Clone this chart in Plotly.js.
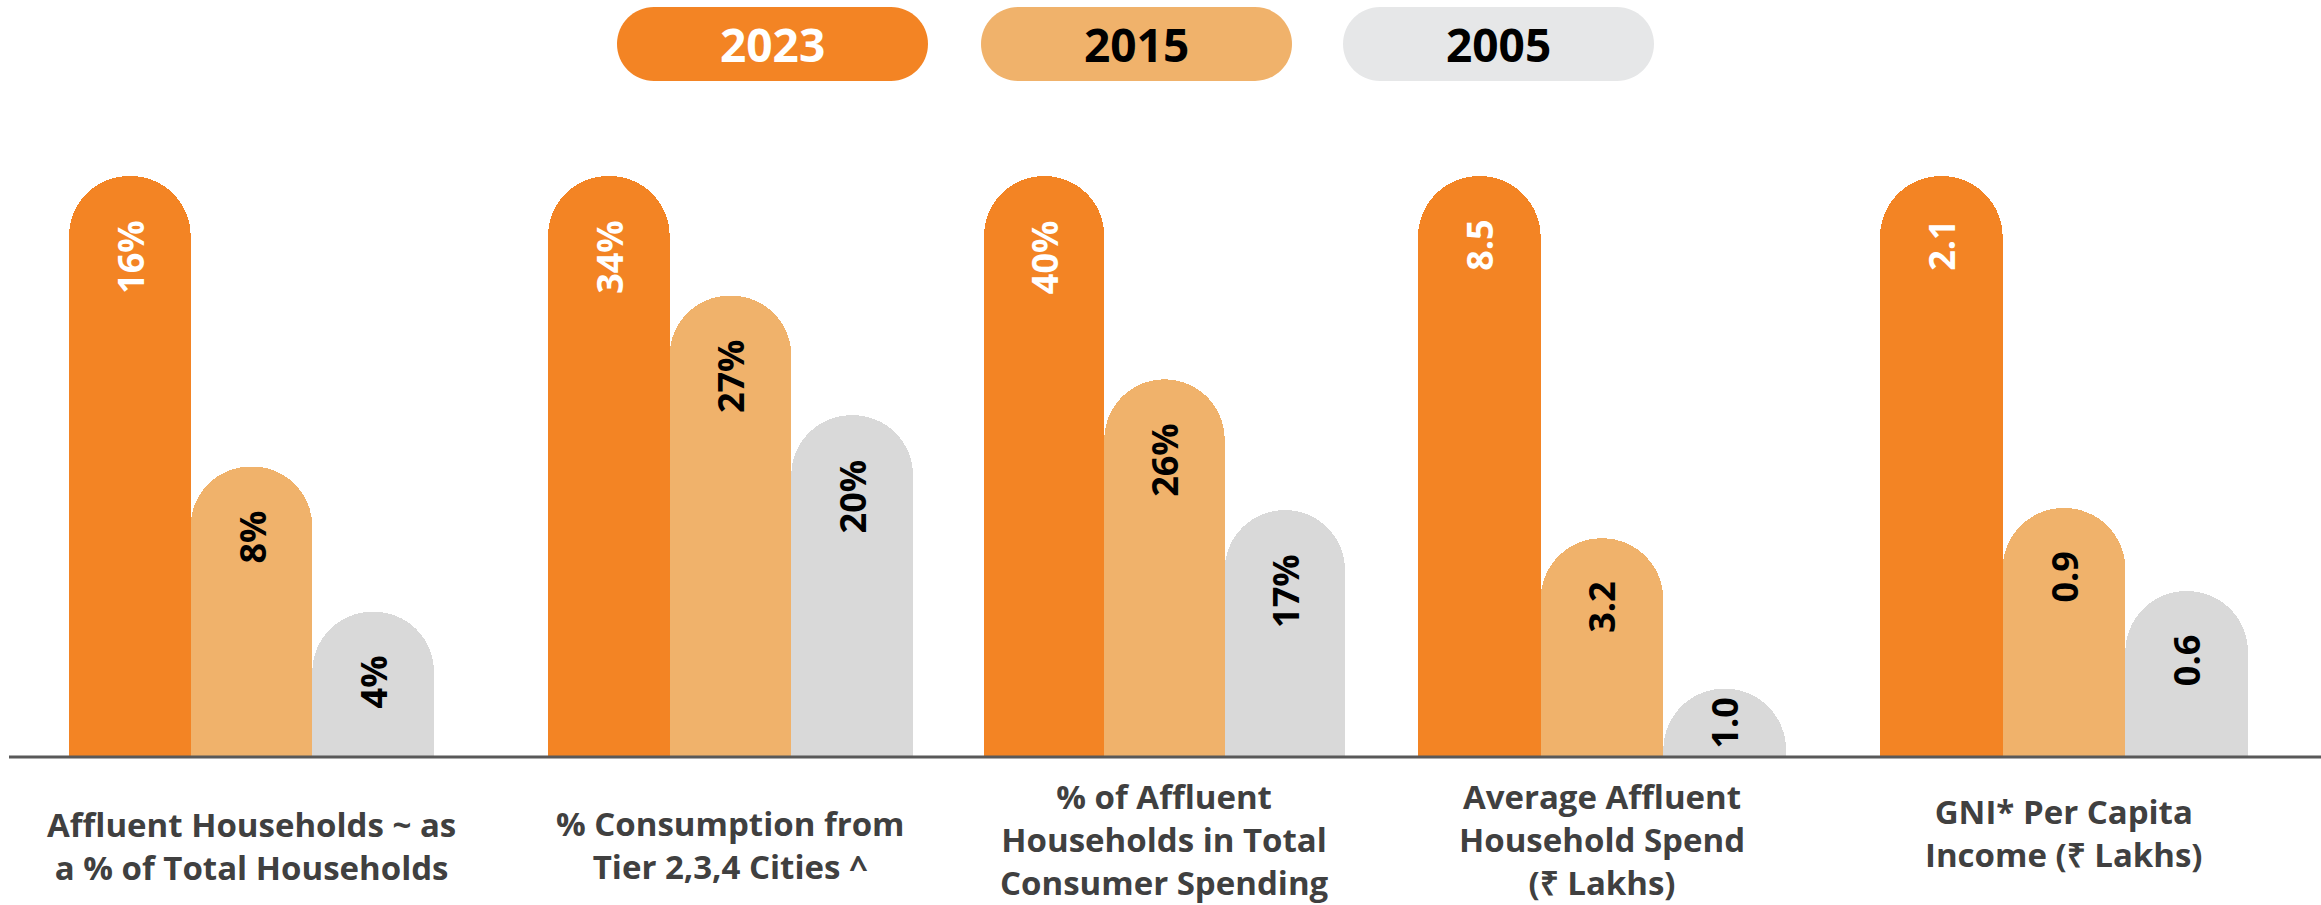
<!DOCTYPE html>
<html>
<head>
<meta charset="utf-8">
<script src="https://cdn.plot.ly/plotly-3.0.1.min.js"></script>
<style>
html,body{margin:0;padding:0;background:#ffffff;}
#chart{width:2321px;height:905px;}
</style>
</head>
<body>
<div id="chart"></div>
<script>
// ---- data ----
const categories = [
  "Affluent Households ~ as<br>a % of Total Households",
  "% Consumption from<br>Tier 2,3,4 Cities ^",
  "% of Affluent<br>Households in Total<br>Consumer Spending",
  "Average Affluent<br>Household Spend<br>(₹ Lakhs)",
  "GNI* Per Capita<br>Income (₹ Lakhs)"
];
const years = ["2023", "2015", "2005"];
const values2023 = [16, 34, 40, 8.5, 2.1];
const values2015 = [8, 27, 26, 3.2, 0.9];
const values2005 = [4, 20, 17, 1.0, 0.6];
const valueUnits = ["%", "%", "%", "", ""];

// ---- styling / layout ----
const W = 2321, H = 905;
const seriesValues = [values2023, values2015, values2005];
const barColors = ["#F38424", "#F0B26B", "#D9D9D9"];
const pillColors = ["#F38424", "#F0B26B", "#E6E7E8"];
const textColors = ["#FFFFFF", "#000000", "#000000"];
const groupPx = [[69, 434], [548, 913], [984, 1345], [1418, 1786], [1880, 2248]];
const basePx = 757, topPx = 176;
const yDomain = [(H - basePx) / H, (H - topPx) / H];
const labelCenters = [846, 845, 839, 839, 833];
const labelFontSize = 33;
const pillPx = [[617, 928], [981, 1292], [1343, 1654]];
const pillY = [7, 81];

function fmt(v, unit) {
  return unit === "%" ? (String(v) + "%") : v.toFixed(1);
}

const traces = [];
const layout = {
  width: W, height: H,
  margin: {l: 0, r: 0, t: 0, b: 0},
  paper_bgcolor: "#FFFFFF",
  plot_bgcolor: "rgba(0,0,0,0)",
  barmode: "group",
  bargap: 0,
  bargroupgap: 0,
  showlegend: false,
  font: {family: "Open Sans, sans-serif"},
  shapes: [],
  annotations: []
};

categories.forEach((cat, i) => {
  const n = i + 1;
  const xa = "x" + (n === 1 ? "" : n);
  const ya = "y" + (n === 1 ? "" : n);
  const groupMax = Math.max(values2023[i], values2015[i], values2005[i]);
  layout["xaxis" + (n === 1 ? "" : n)] = {
    domain: [groupPx[i][0] / W, groupPx[i][1] / W],
    anchor: ya, type: "category", range: [-0.5, 0.5],
    visible: false, fixedrange: true
  };
  layout["yaxis" + (n === 1 ? "" : n)] = {
    domain: yDomain, anchor: xa, range: [0, groupMax],
    visible: false, fixedrange: true
  };
  years.forEach((yr, j) => {
    const v = seriesValues[j][i];
    traces.push({
      type: "bar",
      name: yr,
      x: [cat],
      y: [v],
      xaxis: xa, yaxis: ya,
      offsetgroup: yr,
      marker: {color: barColors[j], cornerradius: "50%", line: {width: 0}},
      hoverinfo: "name+y"
    });
    // value label, rotated; near the top of tall bars, centred in short ones
    const barPx = v / groupMax * (basePx - topPx);
    const tall = barPx > 130;
    layout.annotations.push({
      xref: xa, yref: ya,
      x: (j - 1) / 3, y: tall ? v : v / 2,
      xanchor: "center", yanchor: tall ? "top" : "middle", yshift: tall ? -42 : 0,
      textangle: -90, showarrow: false,
      text: fmt(v, valueUnits[i]),
      font: {family: "Open Sans, sans-serif", size: 36, weight: "bold", color: textColors[j]}
    });
  });
  // category label
  layout.annotations.push({
    xref: xa, x: cat, yref: "paper", y: 1 - labelCenters[i] / H,
    xanchor: "center", yanchor: "middle", align: "center",
    text: cat, showarrow: false,
    font: {family: "Open Sans, sans-serif", size: labelFontSize, weight: "bold", color: "#404040"}
  });
});

// baseline
layout.shapes.push({
  type: "line", xref: "paper", yref: "paper",
  x0: 9 / W, x1: 1, y0: 1 - basePx / H, y1: 1 - basePx / H,
  line: {color: "#595959", width: 3}, layer: "above"
});

// legend pills
function pillPath(x0, x1, y0, y1) {
  const r = (y1 - y0) / 2, k = 0.5523 * r, cy = (y0 + y1) / 2;
  const P = (x, y) => (x / W).toFixed(5) + "," + (1 - y / H).toFixed(5);
  return "M" + P(x0 + r, y0) + " L" + P(x1 - r, y0) +
    " C" + P(x1 - r + k, y0) + " " + P(x1, cy - k) + " " + P(x1, cy) +
    " C" + P(x1, cy + k) + " " + P(x1 - r + k, y1) + " " + P(x1 - r, y1) +
    " L" + P(x0 + r, y1) +
    " C" + P(x0 + r - k, y1) + " " + P(x0, cy + k) + " " + P(x0, cy) +
    " C" + P(x0, cy - k) + " " + P(x0 + r - k, y0) + " " + P(x0 + r, y0) + " Z";
}
years.forEach((yr, j) => {
  const [x0, x1] = pillPx[j];
  layout.shapes.push({
    type: "path", xref: "paper", yref: "paper",
    path: pillPath(x0, x1, pillY[0], pillY[1]),
    fillcolor: pillColors[j], line: {width: 0}, layer: "above"
  });
  layout.annotations.push({
    xref: "paper", yref: "paper",
    x: (x0 + x1) / 2 / W, y: 1 - (pillY[0] + pillY[1]) / 2 / H,
    xanchor: "center", yanchor: "middle", showarrow: false,
    text: yr,
    font: {family: "Open Sans, sans-serif", size: 46, weight: "bold", color: textColors[j]}
  });
});

Plotly.newPlot("chart", traces, layout, {displayModeBar: false, staticPlot: true});
</script>
</body>
</html>
